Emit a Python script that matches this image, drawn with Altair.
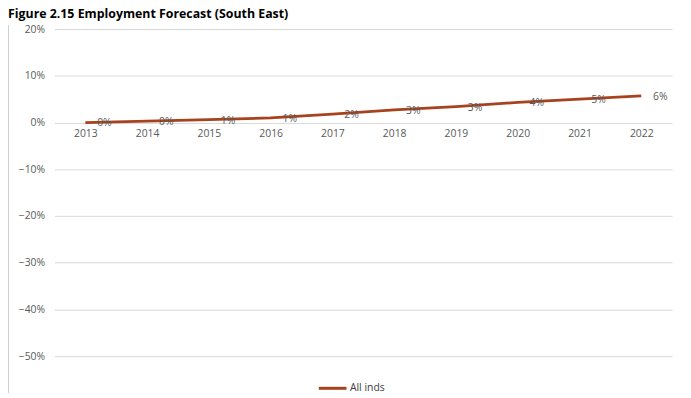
import altair as alt
import pandas as pd

years = ["2013", "2014", "2015", "2016", "2017", "2018", "2019", "2020", "2021", "2022"]
values = [0.000, 0.003, 0.006, 0.010, 0.018, 0.027, 0.034, 0.043, 0.050, 0.057]
series = ["All inds"] * len(years)
y_ticks = [0.2, 0.1, 0.0, -0.1, -0.2, -0.3, -0.4, -0.5]

df = pd.DataFrame({"year": years, "value": values, "series": series})

FONT = "Open Sans"
GRAY = "#595959"
W, H = 625, 331
ZERO_FROM_BOTTOM = H * 0.5 / 0.7

x_enc = alt.X(
    "year:N",
    sort=years,
    scale=alt.Scale(type="point", padding=0.5),
    axis=alt.Axis(
        title=None, domain=False, ticks=False, labelAngle=0,
        labelPadding=6, offset=-round(ZERO_FROM_BOTTOM, 1), labelFontSize=10.5,
        labelColor=GRAY, labelFont=FONT, grid=False,
    ),
)
y_enc = alt.Y(
    "value:Q",
    scale=alt.Scale(domain=[-0.5, 0.2], nice=False, zero=False),
    axis=alt.Axis(
        title=None, values=y_ticks, format=".0%", domain=False, ticks=False,
        labelPadding=10, labelFontSize=10.5, labelColor=GRAY, labelFont=FONT,
        gridColor="#d9d9d9", gridWidth=1,
    ),
)

line = alt.Chart(df).mark_line(strokeWidth=2.8).encode(
    x=x_enc,
    y=y_enc,
    color=alt.Color(
        "series:N",
        scale=alt.Scale(domain=["All inds"], range=["#A8421C"]),
        legend=alt.Legend(
            title=None, orient="none", legendX=266, legendY=348,
            symbolType="stroke", symbolSize=784, symbolStrokeWidth=3,
            labelFontSize=10.5, labelColor="#404040", labelFont=FONT,
            labelOffset=2,
        ),
    ),
)

labels = alt.Chart(df).mark_text(
    align="left", baseline="middle", dx=12, dy=1, fontSize=10.5,
    color=GRAY, font=FONT,
).encode(
    x=alt.X("year:N", sort=years),
    y="value:Q",
    text=alt.Text("value:Q", format=".0%"),
)

border = alt.Chart(df).mark_rule(color="#d0d0d0", strokeWidth=1, clip=False).encode(
    x=alt.value(-46.5), y=alt.value(-4), y2=alt.value(368)
)

chart = alt.layer(border, line, labels).properties(
    width=W,
    height=H,
    autosize=alt.AutoSizeParams(type="none"),
    padding={"left": 47, "top": 19, "right": 11, "bottom": 40},
    title=alt.TitleParams(
        "Figure 2.15 Employment Forecast (South East)",
        anchor="start", frame="group", fontSize=12.5, fontWeight="bold",
        font=FONT, color="#000000", dx=-47, offset=0, dy=6, baseline="alphabetic",
    ),
).configure_view(stroke=None)

chart.save("out.html", embed_options={"renderer": "svg", "actions": False})
